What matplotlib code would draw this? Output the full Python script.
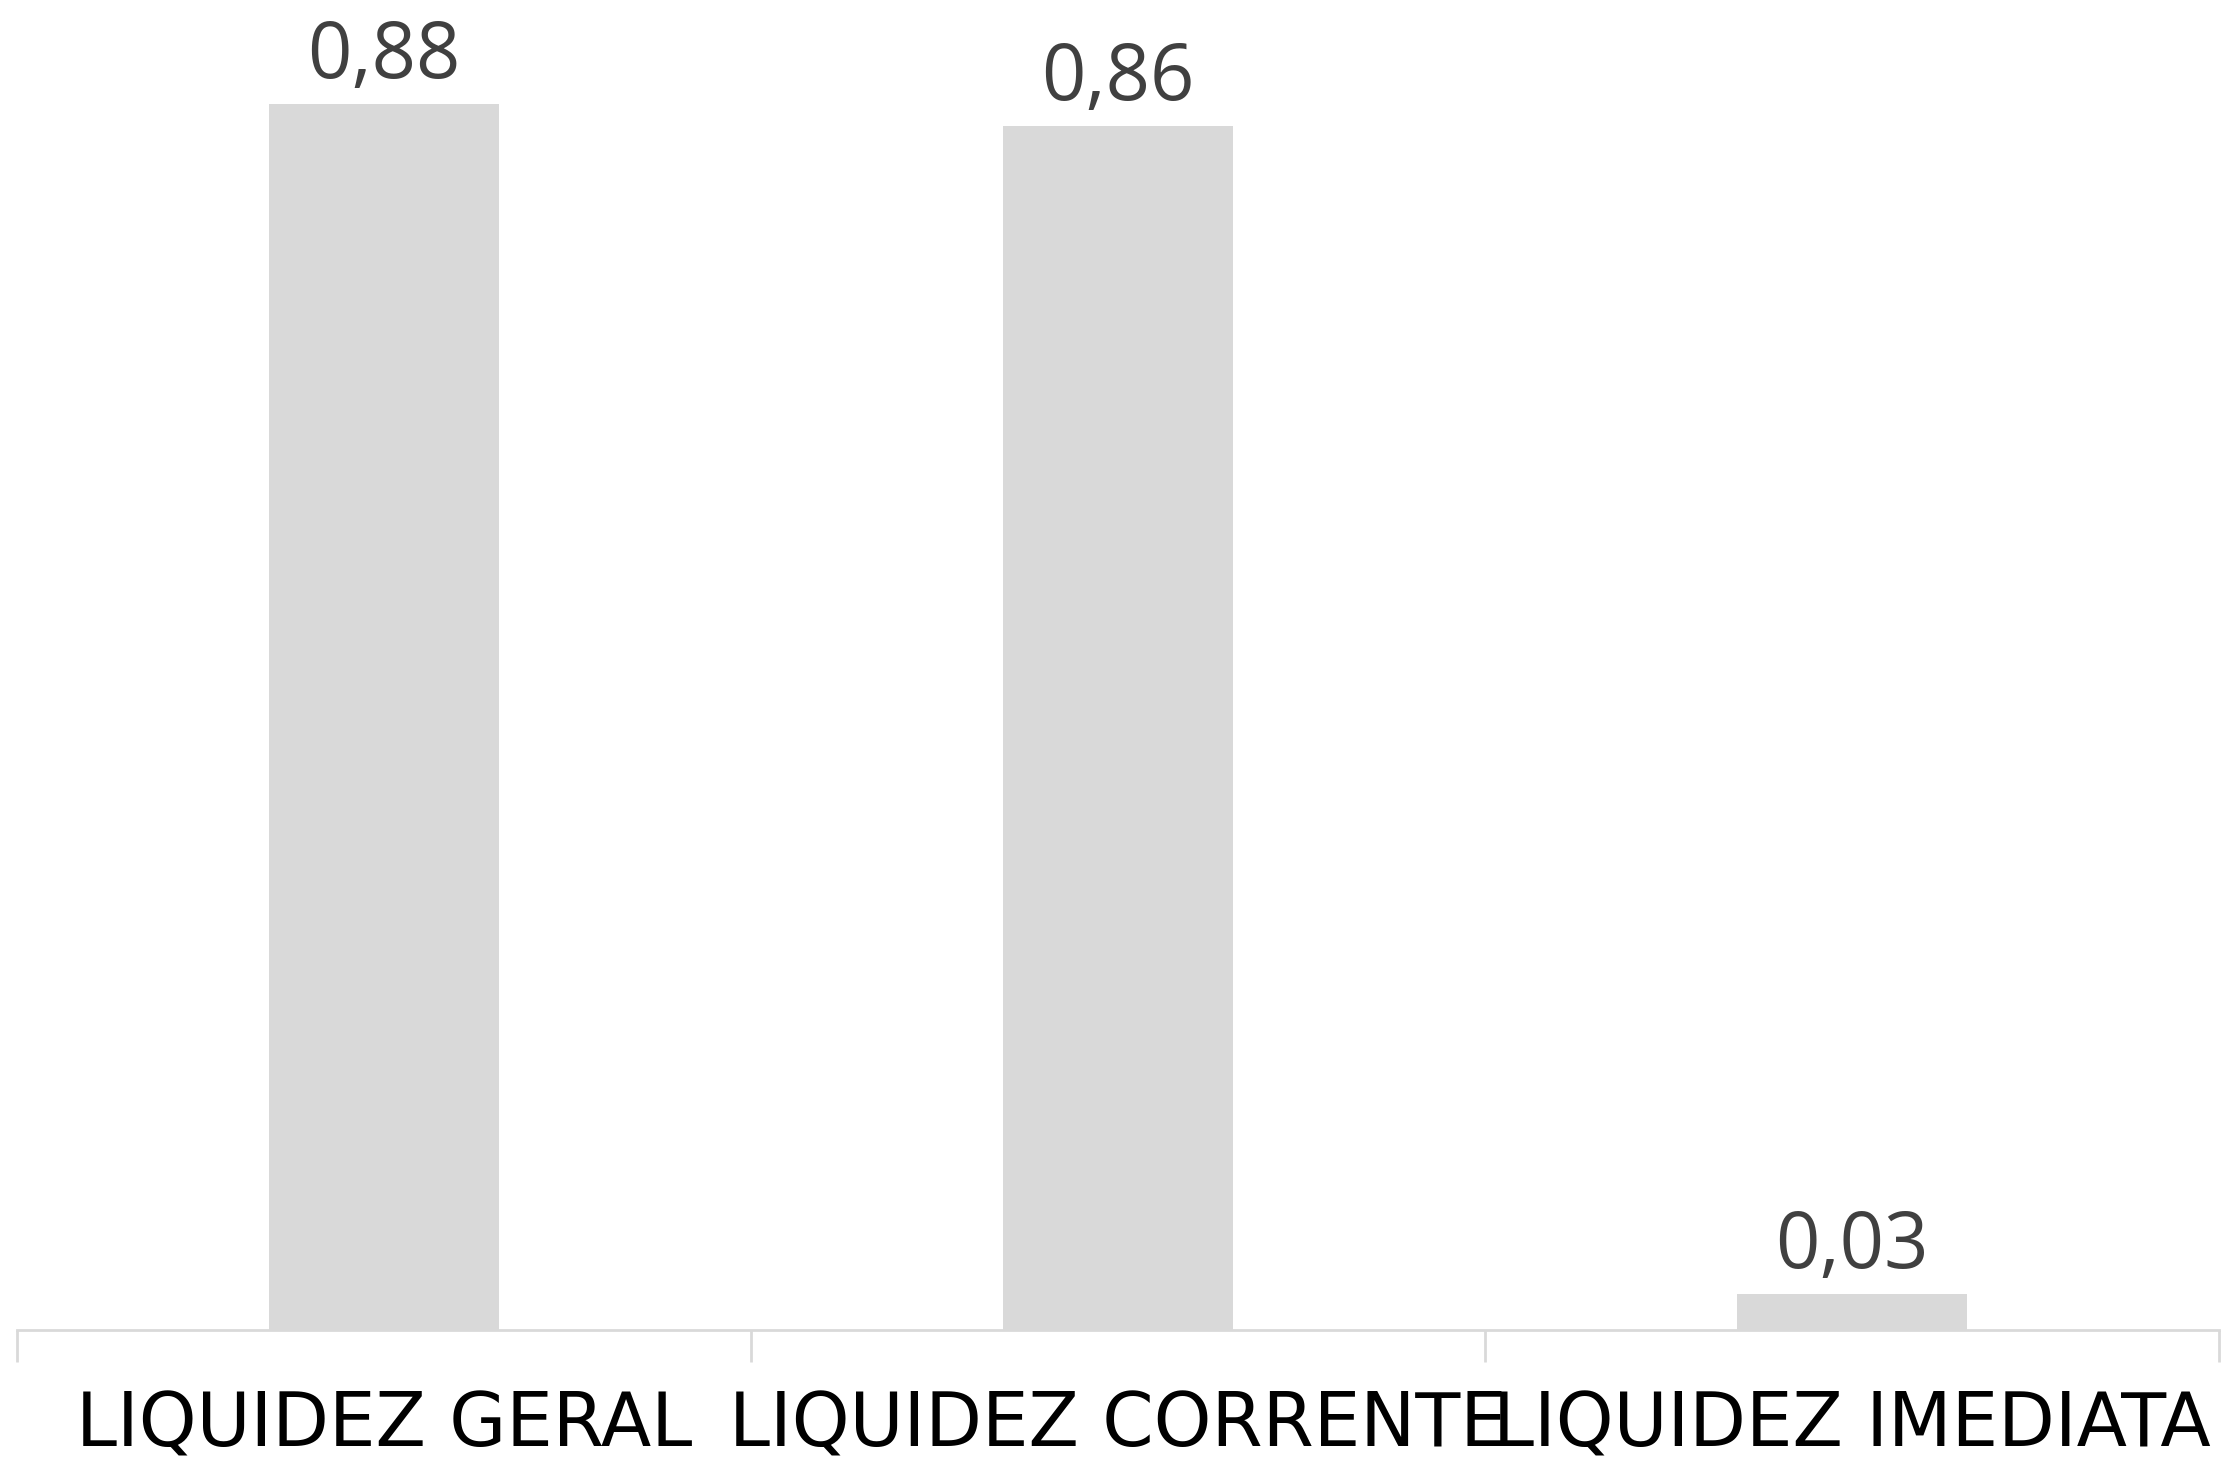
import matplotlib
matplotlib.use('Agg')
import matplotlib.pyplot as plt

categorias = ['LIQUIDEZ GERAL', 'LIQUIDEZ CORRENTE', 'LIQUIDEZ IMEDIATA']
valores = [0.88, 0.864, 0.026]
rotulos = ['0,88', '0,86', '0,03']

fig = plt.figure(figsize=(22.29, 14.7), dpi=100)
ax = fig.add_axes([17 / 2229, 140 / 1470, 2202 / 2229, 1330 / 1470])

x = range(len(categorias))
ax.bar(x, valores, width=0.312, color='#d9d9d9', zorder=2)
ax.set_xlim(-0.5, len(categorias) - 0.5)
ax.set_ylim(0, 0.9546)

for i, v in enumerate(valores):
    ax.annotate(rotulos[i], (i, v), xytext=(0, 18.7), textcoords='offset points',
                ha='center', va='baseline', fontsize=56, color='#404040',
                family='Open Sans')

for s in ['top', 'right', 'left']:
    ax.spines[s].set_visible(False)
ax.spines['bottom'].set_color('#d9d9d9')
ax.spines['bottom'].set_linewidth(2)
ax.set_yticks([])

# ticks entre categorias, como no excel
ax.set_xticks([-0.5, 0.5, 1.5, 2.5])
ax.set_xticklabels([])
ax.tick_params(axis='x', length=23, width=2, color='#d9d9d9')
ax.set_xticks(list(x), minor=True)
ax.set_xticklabels(categorias, minor=True, fontsize=53, color='black', family='DejaVu Sans')
ax.tick_params(axis='x', which='minor', length=0, pad=43)

fig.savefig('out.png', dpi=100)
